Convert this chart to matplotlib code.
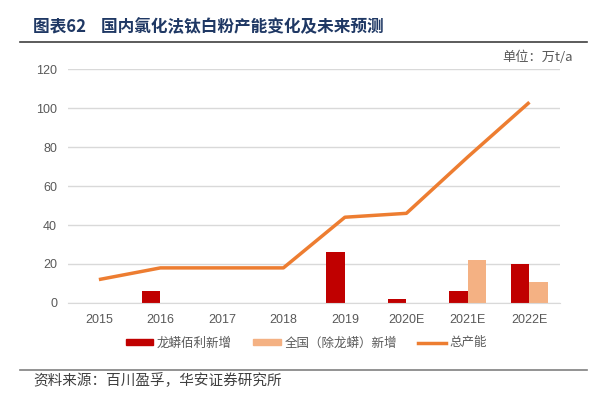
import numpy as np
import matplotlib
matplotlib.use('Agg')
import matplotlib.pyplot as plt
from matplotlib.lines import Line2D
from matplotlib.patches import Patch

plt.rcParams['font.family'] = ['Liberation Sans', 'Noto Sans CJK SC', 'DejaVu Sans']

years = ['2015', '2016', '2017', '2018', '2019', '2020E', '2021E', '2022E']
longmang_new = [0, 6, 0, 0, 26, 2, 6, 20]
national_new = [0, 0, 0, 0, 0, 0, 22, 11]
total_cap = [12, 18, 18, 18, 44, 46, 75, 103]

red = '#C00000'
light = '#F4B183'
orange = '#ED7D31'
gray = '#595959'
cjk = ['Noto Sans CJK SC', 'DejaVu Sans']

fig = plt.figure(figsize=(6.03, 3.95), dpi=100)
ax = fig.add_axes([0.113, 0.233, 0.816, 0.592])

x = np.arange(len(years))
w = 0.3
ax.bar(x - w / 2, longmang_new, w, color=red, zorder=2)
ax.bar(x + w / 2, national_new, w, color=light, zorder=2)
ax.plot(x, total_cap, color=orange, lw=2.5, zorder=3, solid_capstyle='butt')

ax.set_xlim(-0.5, len(years) - 0.5)
ax.set_ylim(0, 120)
ax.set_yticks(range(0, 121, 20))
ax.set_xticks(x)
ax.set_xticklabels(years)
ax.yaxis.grid(True, color='#D9D9D9', lw=1, zorder=0)
for s in ['top', 'right', 'left']:
    ax.spines[s].set_visible(False)
ax.spines['bottom'].set_color('#D9D9D9')
ax.tick_params(axis='both', length=0, labelsize=9, colors=gray)
ax.tick_params(axis='x', pad=8)
ax.tick_params(axis='y', pad=8)

# legend
handles = [Patch(color=red), Patch(color=light), Line2D([], [], color=orange, lw=2.5)]
labels = ['龙蟒佰利新增', '全国（除龙蟒）新增', '总产能']
leg = fig.legend(handles, labels, loc='center', bbox_to_anchor=(0.508, 0.132), ncol=3,
                 frameon=False, prop={'family': cjk, 'size': 9}, handlelength=2.2,
                 handleheight=0.4, columnspacing=1.7, handletextpad=0.3)
for t in leg.get_texts():
    t.set_color(gray)

# title, unit, source
fig.text(0.055, 0.932, '图表62    国内氯化法钛白粉产能变化及未来预测', family=cjk,
         fontsize=12, fontweight='bold', color='#1F3864', va='center')
fig.add_artist(Line2D([0.033, 0.973], [0.893, 0.893], color='#404040', lw=1.2))
fig.text(0.95, 0.855, '单位：万t/a', family=cjk, fontsize=9.5, color=gray,
         ha='right', va='center')
fig.add_artist(Line2D([0.033, 0.973], [0.063, 0.063], color='#808080', lw=1.2))
fig.text(0.055, 0.035, '资料来源：百川盈孚，华安证券研究所', family=cjk, fontsize=10.5,
         color='#404040', va='center')

fig.savefig('out.png', dpi=100)
